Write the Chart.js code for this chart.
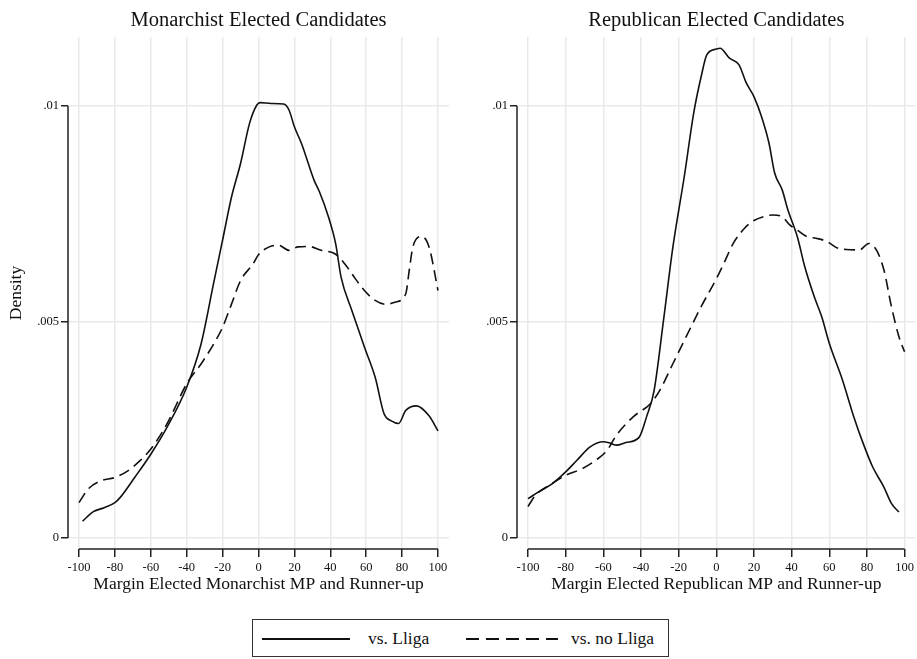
<!DOCTYPE html>
<html>
<head>
<meta charset="utf-8">
<script src="https://cdn.jsdelivr.net/npm/chart.js@4.4.1/dist/chart.umd.min.js"></script>
<style>
  html, body { margin: 0; padding: 0; background: #fff; }
  #wrap { position: relative; width: 917px; height: 659px; overflow: hidden; font-family: "Liberation Serif", "Times New Roman", serif; color: #111; }
  #cMon { position: absolute; left: 0; top: 0; }
  #cRep { position: absolute; left: 458px; top: 0; }
  .legend { position: absolute; left: 252px; top: 619px; width: 415px; height: 36px; border: 1.5px solid #333; }
  .legend .sample { position: absolute; height: 2px; top: 18px; }
  .legend .solid { left: 9px; width: 88px; background: #111; }
  .legend .dashed { left: 213px; width: 92px; background: repeating-linear-gradient(to right, #111 0 13px, transparent 13px 20px); }
  .legend .txt { position: absolute; top: 8px; font-size: 17.5px; line-height: 20px; white-space: nowrap; }
</style>
</head>
<body>
<div id="wrap">
  <canvas id="cMon" width="458" height="600"></canvas>
  <canvas id="cRep" width="459" height="600"></canvas>
  <div class="legend">
    <div class="sample solid"></div><div class="txt" style="left:115px">vs. Lliga</div>
    <div class="sample dashed"></div><div class="txt" style="left:318px">vs. no Lliga</div>
  </div>
</div>
<script>
// axes
const xTicks = [-100, -80, -60, -40, -20, 0, 20, 40, 60, 80, 100];
const yTicks = [0, 0.005, 0.01];
const yTickLabels = ["0", ".005", ".01"];

// Monarchist, vs. Lliga (solid)
const monLligaX = [-98, -92, -86, -80, -77, -69, -60, -51, -40, -32, -25, -20, -15, -10, -5, -1, 1, 7, 14, 17, 20, 24, 31, 34, 39, 43, 46, 52, 59, 65, 70, 74, 78, 82, 88, 95, 100];
const monLligaY = [0.00039, 0.00061, 0.00070, 0.00082, 0.00094, 0.00140, 0.00194, 0.00256, 0.00349, 0.00449, 0.00590, 0.00690, 0.00790, 0.00867, 0.00960, 0.01002, 0.01008, 0.01006, 0.01005, 0.00991, 0.00952, 0.00913, 0.00828, 0.00801, 0.00743, 0.00681, 0.00604, 0.00527, 0.00442, 0.00372, 0.00287, 0.00271, 0.00265, 0.00295, 0.00306, 0.00283, 0.00248];
// Monarchist, vs. no Lliga (dashed)
const monNoX = [-100, -95, -88, -80, -73, -66, -60, -51, -40, -32, -25, -20, -15, -10, -3, 0, 6, 11, 17, 22, 28, 35, 43, 48, 54, 59, 65, 71, 76, 82, 84, 86, 91, 95, 100];
const monNoY = [0.00082, 0.00113, 0.00132, 0.00140, 0.00155, 0.00179, 0.00206, 0.00264, 0.00357, 0.00403, 0.00449, 0.00488, 0.00542, 0.00596, 0.00635, 0.00656, 0.00674, 0.00678, 0.00666, 0.00674, 0.00675, 0.00666, 0.00657, 0.00635, 0.00600, 0.00573, 0.00550, 0.00541, 0.00546, 0.00565, 0.00620, 0.00674, 0.00698, 0.00674, 0.00573];

// Republican, vs. Lliga (solid)
const repLligaX = [-100, -94, -87, -80, -74, -67, -60, -56, -53, -48, -41, -37, -33, -28, -23, -17, -12, -8, -5, 0, 2, 7, 12, 16, 20, 24, 28, 31, 35, 38, 43, 47, 52, 56, 60, 67, 73, 78, 83, 89, 93, 97];
const repLligaY = [0.00091, 0.00108, 0.00126, 0.00153, 0.00180, 0.00211, 0.00223, 0.00219, 0.00215, 0.00221, 0.00233, 0.00281, 0.00342, 0.00505, 0.00675, 0.00837, 0.00984, 0.01069, 0.01119, 0.01132, 0.01134, 0.01111, 0.01096, 0.01053, 0.01022, 0.00976, 0.00914, 0.00845, 0.00806, 0.00760, 0.00698, 0.00628, 0.00559, 0.00512, 0.00451, 0.00366, 0.00281, 0.00219, 0.00165, 0.00118, 0.00080, 0.00060];
// Republican, vs. no Lliga (dashed)
const repNoX = [-100, -96, -88, -80, -71, -64, -58, -53, -44, -35, -30, -23, -16, -8, 0, 4, 9, 15, 20, 25, 30, 35, 39, 43, 48, 53, 59, 64, 69, 76, 81, 85, 89, 93, 97, 100];
const repNoY = [0.00073, 0.00099, 0.00124, 0.00145, 0.00161, 0.00180, 0.00203, 0.00238, 0.00281, 0.00311, 0.00342, 0.00404, 0.00466, 0.00536, 0.00600, 0.00636, 0.00682, 0.00717, 0.00735, 0.00744, 0.00748, 0.00744, 0.00725, 0.00713, 0.00698, 0.00694, 0.00686, 0.00672, 0.00668, 0.00667, 0.00682, 0.00667, 0.00621, 0.00536, 0.00466, 0.00431];

Chart.defaults.font.family = '"Liberation Serif", "Times New Roman", serif';
Chart.defaults.color = "#111";

const ink = "#111";
const gridGrey = "#e9e9e9";

function pts(xs, ys){
  return xs.map((x, i) => ({ x, y: ys[i] }));
}

// stata-style axis lines, only between first and last tick
const axisLines = {
  id: "axisLines",
  afterDatasetsDraw(chart){
    const { ctx, chartArea, scales: { x, y } } = chart;
    ctx.save();
    ctx.strokeStyle = "#222";
    ctx.lineWidth = 1.5;
    ctx.beginPath();
    ctx.moveTo(x.getPixelForValue(xTicks[0]), chartArea.bottom);
    ctx.lineTo(x.getPixelForValue(xTicks[xTicks.length - 1]), chartArea.bottom);
    ctx.moveTo(chartArea.left, y.getPixelForValue(yTicks[0]));
    ctx.lineTo(chartArea.left, y.getPixelForValue(yTicks[yTicks.length - 1]));
    ctx.stroke();
    ctx.restore();
  }
};

function makePanel(id, title, xTitle, showYTitle, yWidth, padRight, xMin, xMax, lliga, noLliga){
  return new Chart(document.getElementById(id), {
    type: "line",
    data: {
      datasets: [
        { label: "vs. Lliga", data: lliga, borderColor: ink, borderWidth: 1.6, pointRadius: 0, cubicInterpolationMode: "monotone", fill: false },
        { label: "vs. no Lliga", data: noLliga, borderColor: ink, borderWidth: 1.6, borderDash: [11, 6], pointRadius: 0, cubicInterpolationMode: "monotone", fill: false },
      ],
    },
    options: {
      responsive: false,
      animation: false,
      layout: { padding: { left: 0, right: padRight, top: 0, bottom: 0 } },
      plugins: {
        legend: { display: false },
        tooltip: { enabled: false },
        title: {
          display: true, text: title, fullSize: false, color: ink,
          font: { size: 20.5, weight: "normal" }, padding: { top: 8, bottom: 4.4 },
        },
      },
      scales: {
        x: {
          type: "linear", min: xMin, max: xMax,
          afterBuildTicks: s => { s.ticks = xTicks.map(v => ({ value: v })); },
          afterFit: s => { s.height = 51; },
          ticks: { autoSkip: false, maxRotation: 0, padding: 3, color: ink, font: { size: 12.5 } },
          grid: { color: gridGrey, lineWidth: 1.5, tickColor: "#222", tickWidth: 1.5, tickLength: 8 },
          border: { display: false },
          title: { display: true, text: xTitle, color: ink, font: { size: 17.5 }, padding: { top: 0, bottom: 5.5 } },
        },
        y: {
          type: "linear", min: -0.000255, max: 0.0116,
          afterBuildTicks: s => { s.ticks = yTicks.map(v => ({ value: v })); },
          afterFit: s => { s.width = yWidth; },
          ticks: { padding: 2, color: ink, font: { size: 12.5 }, callback: v => yTickLabels[yTicks.indexOf(v)] },
          grid: { color: gridGrey, lineWidth: 1.5, tickColor: "#222", tickWidth: 1.5, tickLength: 7 },
          border: { display: false },
          title: { display: showYTitle, text: "Density", color: ink, font: { size: 17.5 }, padding: { top: 5.5, bottom: 0 } },
        },
      },
    },
    plugins: [axisLines],
  });
}

makePanel("cMon", "Monarchist Elected Candidates", "Margin Elected Monarchist MP and Runner-up", true, 68, 9, -106.13, 106.13,
  pts(monLligaX, monLligaY), pts(monNoX, monNoY));
makePanel("cRep", "Republican Elected Candidates", "Margin Elected Republican MP and Runner-up", false, 59, 1, -105.84, 105.84,
  pts(repLligaX, repLligaY), pts(repNoX, repNoY));
</script>
</body>
</html>
